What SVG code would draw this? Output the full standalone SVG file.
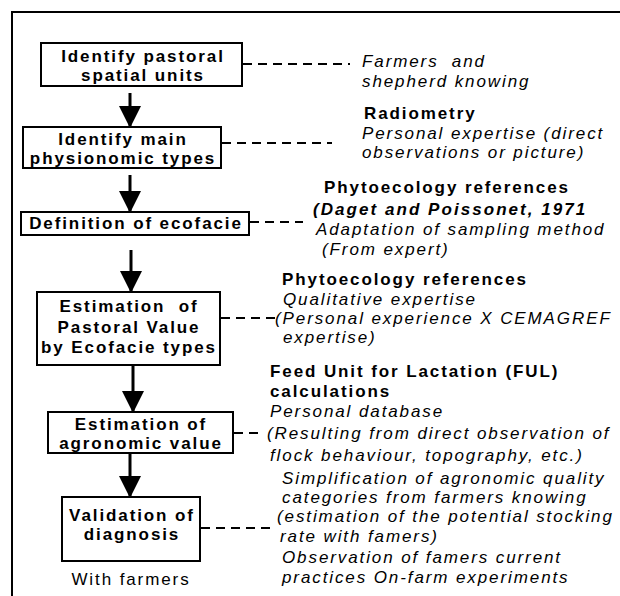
<svg xmlns="http://www.w3.org/2000/svg" width="620" height="596" viewBox="0 0 620 596">
<defs>
<style>
text{font-family:"Liberation Sans",Arial,sans-serif;font-size:17px;letter-spacing:1.9px;fill:#000}
.b{font-weight:bold}
.i{font-style:italic}
.bi{font-weight:bold;font-style:italic;letter-spacing:2.05px}
.c{text-anchor:middle}
.box{fill:#fff;stroke:#000;stroke-width:2}
.dash{stroke:#000;stroke-width:2;stroke-dasharray:9 6;fill:none}
.arr{stroke:#000;stroke-width:3;fill:none;marker-end:url(#ah)}
</style>
<marker id="ah" markerUnits="userSpaceOnUse" markerWidth="22" markerHeight="24" refX="21" refY="11" orient="auto" viewBox="0 0 22 22">
<path d="M0,0 L22,11 L0,22 z" fill="#000"/>
</marker>
</defs>
<rect width="620" height="596" fill="#fff"/>
<g id="frame">
<path d="M12,596 V12 H620" fill="none" stroke="#000" stroke-width="2"/>
</g>
<g id="connectors">
<line class="arr" x1="130" y1="93" x2="130" y2="127"/>
<line class="arr" x1="130" y1="175" x2="130" y2="212"/>
<line class="arr" x1="131" y1="250" x2="131" y2="292"/>
<line class="arr" x1="133" y1="365" x2="133" y2="412"/>
<line class="arr" x1="130" y1="453" x2="130" y2="497"/>
<line class="dash" x1="243" y1="64" x2="350" y2="64"/>
<line class="dash" x1="222" y1="143" x2="332" y2="143"/>
<line class="dash" x1="250" y1="222" x2="303" y2="222"/>
<line class="dash" x1="221" y1="318" x2="276" y2="318"/>
<line class="dash" x1="234" y1="433" x2="264" y2="433"/>
<line class="dash" x1="201" y1="528" x2="273" y2="528"/>
</g>
<g id="n1">
<rect class="box" x="41" y="43" width="201" height="43"/>
<text class="b c" x="143" y="62">Identify pastoral</text>
<text class="b c" x="143" y="81">spatial units</text>
</g>
<g id="n2">
<rect class="box" x="23" y="127" width="198" height="41"/>
<text class="b c" x="123" y="145">Identify main</text>
<text class="b c" x="123" y="164">physionomic types</text>
</g>
<g id="n3">
<rect class="box" x="21" y="212" width="228" height="23"/>
<text class="b c" x="136" y="229">Definition of ecofacie</text>
</g>
<g id="n4">
<rect class="box" x="37" y="292" width="183" height="73"/>
<text class="b c" x="129" y="312" xml:space="preserve">Estimation  of</text>
<text class="b c" x="129" y="333">Pastoral Value</text>
<text class="b c" x="129" y="353">by Ecofacie types</text>
</g>
<g id="n5">
<rect class="box" x="48" y="412" width="185" height="41"/>
<text class="b c" x="141" y="429.5">Estimation of</text>
<text class="b c" x="141" y="448.5">agronomic value</text>
</g>
<g id="n6">
<rect class="box" x="62" y="497" width="138" height="64"/>
<text class="b c" x="132" y="521">Validation of</text>
<text class="b c" x="132" y="540">diagnosis</text>
</g>
<g id="with-farmers">
<text class="c" x="131" y="585">With farmers</text>
</g>
<g id="note1">
<text class="i" x="362" y="67" xml:space="preserve">Farmers  and</text>
<text class="i" x="362" y="87">shepherd knowing</text>
</g>
<g id="note2">
<text class="b" x="364" y="119">Radiometry</text>
<text class="i" x="362" y="138.5">Personal expertise (direct</text>
<text class="i" x="362" y="158">observations or picture)</text>
</g>
<g id="note3">
<text class="b" x="324" y="193">Phytoecology references</text>
<text class="bi" x="313" y="215">(Daget and Poissonet, 1971</text>
<text class="i" x="316" y="235">Adaptation of sampling method</text>
<text class="i" x="322" y="255">(From expert)</text>
</g>
<g id="note4">
<text class="b" x="282" y="285">Phytoecology references</text>
<text class="i" x="283" y="305">Qualitative expertise</text>
<text class="i" x="275" y="324">(Personal experience X CEMAGREF</text>
<text class="i" x="283" y="343">expertise)</text>
</g>
<g id="note5">
<text class="b" x="270" y="377">Feed Unit for Lactation (FUL)</text>
<text class="b" x="270" y="397">calculations</text>
<text class="i" x="270" y="417">Personal database</text>
<text class="i" x="267" y="439">(Resulting from direct observation of</text>
<text class="i" x="270" y="461">flock behaviour, topography, etc.)</text>
</g>
<g id="note6">
<text class="i" x="282" y="484">Simplification of agronomic quality</text>
<text class="i" x="282" y="503">categories from farmers knowing</text>
<text class="i" x="277" y="522">(estimation of the potential stocking</text>
<text class="i" x="280" y="542">rate with famers)</text>
<text class="i" x="282" y="563">Observation of famers current</text>
<text class="i" x="282" y="583">practices On-farm experiments</text>
</g>
</svg>
